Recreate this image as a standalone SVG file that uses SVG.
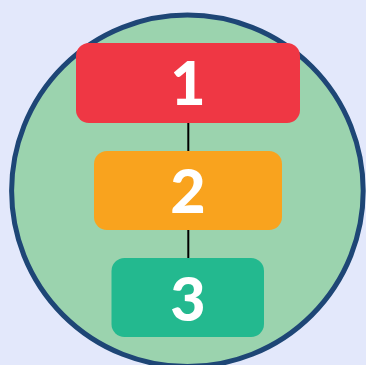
<svg xmlns="http://www.w3.org/2000/svg" width="366" height="365" viewBox="0 0 366 365">
<style>
.box{stroke:none}
.lbl{font-family:Lato,"Liberation Sans",sans-serif;font-weight:900;font-size:61px;fill:#ffffff;text-anchor:middle}
.conn{stroke:#000000;stroke-width:2;fill:none}
</style>
<rect x="0" y="0" width="366" height="365" fill="#e3e8fb"/>
<circle id="circle" cx="187.4" cy="190.8" r="175.8" fill="#9bd3ae" stroke="#1e4676" stroke-width="5"/>
<g id="connectors">
<line class="conn" x1="188.3" y1="122" x2="188.3" y2="152"/>
<line class="conn" x1="188.3" y1="229" x2="188.3" y2="259"/>
</g>
<g id="node1">
<rect class="box" x="76" y="43" width="224" height="80" rx="13" fill="#ef3744"/>
<text class="lbl" x="188" y="105">1</text>
</g>
<g id="node2">
<rect class="box" x="94" y="151" width="188" height="79" rx="13" fill="#f9a31e"/>
<text class="lbl" x="188" y="213">2</text>
</g>
<g id="node3">
<rect class="box" x="111.5" y="258" width="152.5" height="79" rx="13" fill="#23b98f"/>
<text class="lbl" x="188" y="321">3</text>
</g>
</svg>
